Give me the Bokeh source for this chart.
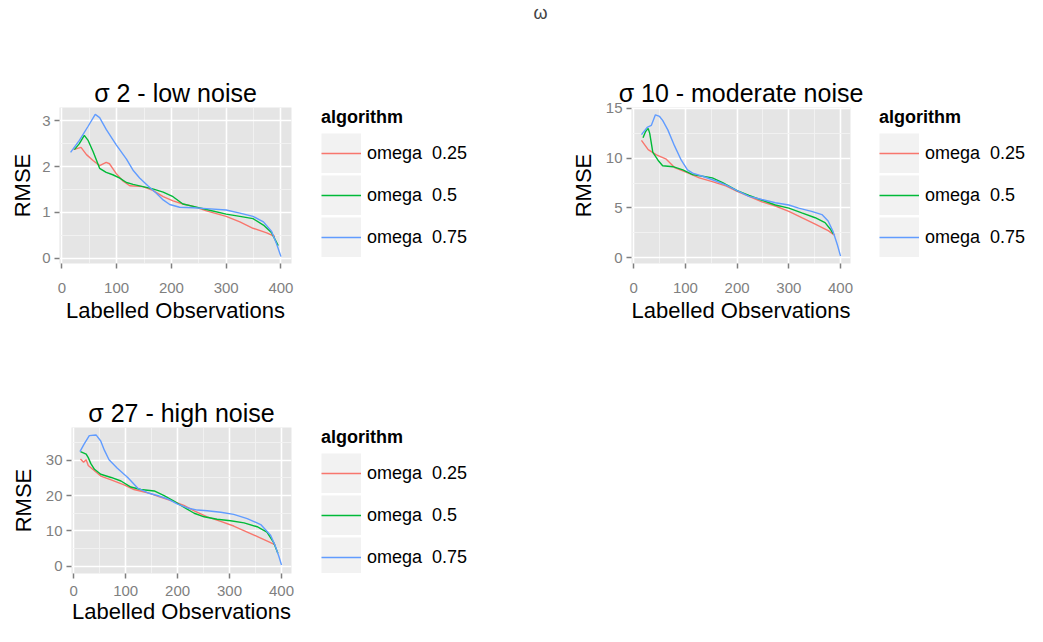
from bokeh.plotting import figure
from bokeh.models import FixedTicker, Range1d, Legend, LegendItem, Spacer
from bokeh.layouts import column, row
from bokeh.embed import file_html
from bokeh.resources import INLINE

FONT = "Liberation Sans"

# ---------------- data ----------------
main_title = "ω"
algorithms = ["omega  0.25", "omega  0.5", "omega  0.75"]
colors = ["#F8766D", "#00BA38", "#619CFF"]
legend_title = "algorithm"
x_label = "Labelled Observations"
y_label = "RMSE"
x_ticks = [0, 100, 200, 300, 400]
x_minor = [50, 150, 250, 350]

# sigma 2 - low noise
title1 = "σ 2 - low noise"
red1_x = [21, 35, 45, 57, 69, 81, 87, 99, 112, 124, 148, 166, 185, 203, 221, 240, 264, 300, 325, 349, 374, 389]
red1_y = [2.37, 2.42, 2.26, 2.13, 2.02, 2.09, 2.06, 1.85, 1.68, 1.58, 1.56, 1.48, 1.34, 1.25, 1.18, 1.13, 1.03, 0.91, 0.79, 0.65, 0.55, 0.47]
green1_x = [23, 32, 41, 48, 57, 69, 81, 93, 105, 118, 130, 148, 166, 185, 203, 221, 240, 264, 300, 325, 349, 368, 383, 395]
green1_y = [2.37, 2.50, 2.68, 2.57, 2.33, 1.96, 1.87, 1.82, 1.75, 1.65, 1.61, 1.56, 1.51, 1.44, 1.34, 1.18, 1.13, 1.06, 0.96, 0.91, 0.86, 0.72, 0.55, 0.27]
blue1_x = [16, 32, 48, 61, 69, 81, 99, 118, 130, 142, 157, 173, 185, 197, 215, 240, 264, 300, 325, 349, 368, 383, 392, 400]
blue1_y = [2.31, 2.57, 2.88, 3.14, 3.07, 2.81, 2.48, 2.16, 1.92, 1.75, 1.58, 1.41, 1.27, 1.17, 1.11, 1.10, 1.08, 1.05, 0.98, 0.91, 0.79, 0.58, 0.31, 0.03]
y1_ticks = [0, 1, 2, 3]
y1_minor = [0.5, 1.5, 2.5]

# sigma 10 - moderate noise
title2 = "σ 10 - moderate noise"
red2_x = [15, 28, 44, 63, 79, 101, 127, 152, 178, 200, 223, 248, 274, 300, 325, 351, 376, 389]
red2_y = [11.8, 10.86, 10.34, 9.9, 9.06, 8.6, 8.03, 7.65, 7.23, 6.68, 6.17, 5.62, 5.2, 4.66, 4.02, 3.37, 2.73, 2.25]
green2_x = [18, 23, 28, 31, 37, 47, 56, 76, 95, 114, 133, 152, 172, 200, 223, 248, 274, 300, 325, 351, 370, 380, 386]
green2_y = [12.05, 12.69, 13.0, 12.5, 10.6, 9.8, 9.25, 9.15, 8.83, 8.35, 8.19, 8.03, 7.55, 6.75, 6.26, 5.78, 5.3, 4.98, 4.5, 4.02, 3.53, 2.89, 2.4]
blue2_x = [15, 26, 34, 42, 50, 56, 66, 79, 92, 104, 114, 133, 159, 178, 200, 223, 248, 274, 300, 319, 344, 364, 376, 386, 394, 400]
blue2_y = [12.37, 13.1, 13.3, 14.36, 14.2, 13.8, 12.85, 11.24, 9.8, 8.83, 8.5, 8.19, 7.71, 7.32, 6.75, 6.17, 5.85, 5.53, 5.3, 4.98, 4.66, 4.34, 3.69, 2.57, 1.28, 0.16]
y2_ticks = [0, 5, 10, 15]
y2_minor = [2.5, 7.5, 12.5]

# sigma 27 - high noise
title3 = "σ 27 - high noise"
red3_x = [13, 19, 24, 28, 36, 52, 72, 97, 116, 142, 168, 193, 212, 232, 257, 283, 308, 334, 360, 379, 388]
red3_y = [30.3, 29.4, 30.1, 28.5, 27.5, 25.5, 24.4, 23.0, 21.7, 20.8, 19.5, 18.3, 17.2, 15.7, 14.0, 12.7, 11.4, 9.7, 8.0, 6.7, 6.1]
green3_x = [13, 24, 28, 33, 40, 52, 72, 91, 110, 129, 155, 174, 193, 212, 232, 251, 276, 302, 328, 353, 372, 385, 393]
green3_y = [32.4, 31.7, 30.7, 29.0, 27.4, 26.0, 25.1, 24.1, 22.4, 21.7, 21.3, 20.0, 18.4, 16.7, 15.0, 14.0, 13.3, 12.9, 12.3, 11.2, 9.7, 6.7, 3.7]
blue3_x = [12, 20, 30, 43, 52, 59, 68, 84, 104, 123, 142, 161, 180, 200, 219, 238, 257, 283, 308, 334, 360, 379, 388, 395, 400]
blue3_y = [32.4, 34.5, 36.9, 37.1, 35.4, 32.8, 30.1, 27.7, 25.1, 22.1, 20.8, 20.0, 19.1, 17.6, 16.5, 15.9, 15.7, 15.3, 14.7, 13.5, 11.8, 8.8, 5.8, 2.8, 0.4]
y3_ticks = [0, 10, 20, 30]
y3_minor = [5, 15, 25, 35]


def make_panel(title, xs, ys, yticks, yminor, yrange, width, height,
               mleft, mright, mtop, mbottom, xlab_standoff=14, xaxis_standoff=2,
               ylab_standoff=7):
    p = figure(width=width, height=height,
               x_range=Range1d(-4.25, 419.25), y_range=Range1d(*yrange),
               output_backend="svg", toolbar_location=None,
               min_border_left=mleft, min_border_right=mright,
               min_border_top=mtop, min_border_bottom=mbottom,
               background_fill_color="#E5E5E5", border_fill_color="white",
               outline_line_color=None, margin=0)
    p.title.text = title
    p.title.align = "center"
    p.title.text_font = FONT
    p.title.text_font_size = "25px"
    p.title.text_font_style = "normal"
    p.title.text_color = "black"
    p.title.standoff = 1

    p.xaxis.ticker = FixedTicker(ticks=x_ticks, minor_ticks=x_minor)
    p.yaxis.ticker = FixedTicker(ticks=yticks, minor_ticks=yminor)
    for ax in (p.xaxis[0], p.yaxis[0]):
        ax.axis_line_color = None
        ax.major_tick_line_color = "#7F7F7F"
        ax.major_tick_line_width = 1.5
        ax.major_tick_out = 5
        ax.major_tick_in = 0
        ax.minor_tick_line_color = None
        ax.major_label_text_font = FONT
        ax.major_label_text_font_size = "15px"
        ax.major_label_text_color = "#7F7F7F"
        ax.axis_label_text_font = FONT
        ax.axis_label_text_font_size = "22px"
        ax.axis_label_text_font_style = "normal"
        ax.axis_label_text_color = "black"
    p.xaxis.axis_label = x_label
    p.yaxis.axis_label = y_label
    p.xaxis.major_label_standoff = xlab_standoff
    p.xaxis.axis_label_standoff = xaxis_standoff
    p.yaxis.major_label_standoff = 4
    p.yaxis.axis_label_standoff = ylab_standoff

    for g in (p.xgrid[0], p.ygrid[0]):
        g.grid_line_color = "white"
        g.grid_line_width = 1.6
        g.minor_grid_line_color = "#F2F2F2"
        g.minor_grid_line_width = 0.9

    for col, x, y in zip(colors, xs, ys):
        p.line(x=x, y=y, line_color=col, line_width=1.4)
    return p


def make_legend(width, height, left, top, xs, ys):
    # legend-only canvas: the series are drawn outside of its (empty) view,
    # only their legend keys are visible
    lf = figure(width=width, height=height, title=None, x_axis_type=None, y_axis_type=None,
                x_range=Range1d(1000, 1001), y_range=Range1d(1000, 1001),
                output_backend="svg", toolbar_location=None,
                min_border_left=left, min_border_top=top, min_border_right=0,
                min_border_bottom=0, outline_line_color=None,
                background_fill_color="white", border_fill_color="white", margin=0)
    key_bg = lf.line(x=xs[0], y=ys[0], line_color="#F2F2F2", line_width=40)
    items = []
    for lab, col, x, y in zip(algorithms, colors, xs, ys):
        r = lf.line(x=x, y=y, line_color=col, line_width=1.6)
        items.append(LegendItem(label=lab, renderers=[key_bg, r]))
    leg = Legend(items=items, location="top_left", orientation="vertical",
                 title=legend_title, title_text_font=FONT, title_text_font_size="18px",
                 title_text_font_style="bold", title_text_color="black", title_standoff=5,
                 label_text_font=FONT, label_text_font_size="18px", label_text_color="black",
                 glyph_width=40, glyph_height=40, spacing=2, label_standoff=6,
                 padding=0, margin=0, border_line_color=None,
                 background_fill_alpha=0)
    lf.add_layout(leg)
    return lf


s1x, s1y = [red1_x, green1_x, blue1_x], [red1_y, green1_y, blue1_y]
s2x, s2y = [red2_x, green2_x, blue2_x], [red2_y, green2_y, blue2_y]
s3x, s3y = [red3_x, green3_x, blue3_x], [red3_y, green3_y, blue3_y]

f1 = make_panel(title1, s1x, s1y, y1_ticks, y1_minor, (-0.12, 3.29), 300, 300, 52, 16, 49, 77,
                ylab_standoff=4)
l1 = make_legend(260, 300, 14, 67, s1x, s1y)
f2 = make_panel(title2, s2x, s2y, y2_ticks, y2_minor, (-0.58, 15.1), 300, 300, 64, 17, 52, 77)
l2 = make_legend(160, 300, 12, 67, s2x, s2y)
f3 = make_panel(title3, s3x, s3y, y3_ticks, y3_minor, (-2.0, 39.2), 300, 286, 63, 16, 78, 43,
                xlab_standoff=7, xaxis_standoff=0)
l3 = make_legend(260, 286, 14, 87, s3x, s3y)

head = figure(width=1027, height=40, title=main_title, x_axis_type=None, y_axis_type=None,
              output_backend="svg", toolbar_location=None, min_border=0,
              outline_line_color=None, background_fill_color="white",
              border_fill_color="white", margin=0)
head.title.align = "left"
head.title.offset = 533
head.title.text_font = FONT
head.title.text_font_size = "18px"
head.title.text_font_style = "normal"
head.title.standoff = 0

layout = column(head,
                row(Spacer(width=7, height=300, margin=0), f1, l1, f2, l2, spacing=0),
                row(Spacer(width=7, height=286, margin=0), f3, l3, spacing=0),
                spacing=0)

open("out.html", "w").write(file_html(layout, INLINE))
